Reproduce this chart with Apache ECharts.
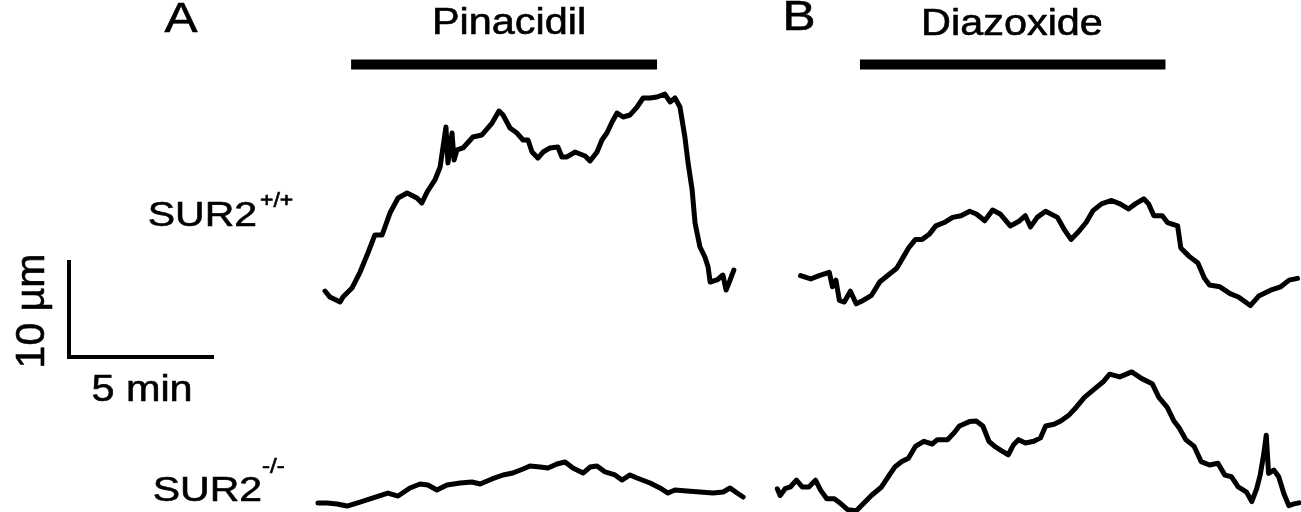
<!DOCTYPE html>
<html>
<head>
<meta charset="utf-8">
<script src="https://cdn.jsdelivr.net/npm/echarts@6/dist/echarts.min.js"></script>
<style>
html,body{margin:0;padding:0;background:#fff;}
#chart{width:1301px;height:512px;}
</style>
</head>
<body>
<div id="chart"></div>
<script>
// ---------- data (time in min, diameter change in µm) ----------
const wtPinTime = [0,0.17,0.52,0.62,0.93,1.21,1.48,1.72,1.97,2.24,2.52,2.83,3.17,3.34,3.52,3.79,3.97,4.07,4.17,4.24,4.38,4.45,4.55,4.76,5.10,5.41,5.76,6.00,6.14,6.38,6.62,6.83,7.00,7.14,7.34,7.52,7.76,8.03,8.17,8.34,8.62,8.97,9.14,9.38,9.55,9.72,9.90,10.07,10.28,10.52,10.76,10.97,11.21,11.45,11.72,11.90,12.07,12.24,12.41,12.52,12.66,12.76,12.93,13.10,13.21,13.28,13.52,13.72,13.83,13.97,14.10];
const wtPinDiam = [1.44,0.82,0.31,0.82,1.75,3.40,5.36,7.22,7.22,9.48,11.03,11.55,11.03,10.52,11.65,12.89,14.23,16.29,18.35,14.64,17.73,14.95,15.98,16.19,17.32,17.53,18.76,20.00,19.59,18.25,17.73,17.01,17.01,15.77,15.15,15.77,16.19,16.29,15.26,15.26,15.77,15.36,14.85,15.77,17.01,17.73,18.87,19.79,19.38,19.59,20.41,21.34,21.34,21.44,21.75,20.93,21.34,20.41,17.32,14.64,11.86,8.45,5.98,4.95,3.92,2.37,2.58,3.09,1.55,2.58,3.61];

const wtDiaTime = [0.02,0.37,0.66,1.01,1.12,1.24,1.36,1.53,1.74,1.94,2.18,2.47,2.76,3.05,3.34,3.58,3.75,3.99,4.22,4.46,4.69,4.98,5.27,5.56,5.86,6.09,6.38,6.65,6.91,7.26,7.55,7.78,7.96,8.19,8.48,8.89,9.12,9.36,9.59,9.88,10.12,10.41,10.76,11.05,11.34,11.58,11.87,12.04,12.22,12.51,12.69,13.04,13.15,13.44,13.74,13.97,14.14,14.50,14.85,15.14,15.55,15.84,16.25,16.60,16.89,17.18];
const wtDiaDiam = [3.23,2.89,3.23,3.58,2.08,2.77,0.68,0.51,1.63,0.33,0.68,1.21,2.61,3.30,4.00,5.22,6.09,6.97,6.97,7.49,8.36,8.71,9.24,9.41,9.87,9.59,8.89,10.00,9.59,8.36,8.81,9.41,8.26,9.24,9.87,9.24,8.01,6.97,7.67,8.71,9.94,10.63,10.98,10.63,10.11,10.63,11.15,10.63,9.41,9.41,8.71,8.36,6.09,5.22,4.53,2.95,2.26,2.08,1.38,1.03,0.15,1.13,1.73,2.08,2.77,2.95];

const koPinTime = [0,0.31,0.66,1.00,1.45,1.90,2.41,2.76,3.17,3.52,3.79,4.10,4.45,4.90,5.31,5.59,6.00,6.38,6.72,7.07,7.31,7.66,7.93,8.24,8.52,8.79,9.14,9.38,9.62,9.90,10.24,10.48,10.76,11.00,11.45,11.79,12.07,12.31,12.72,13.17,13.62,13.97,14.21,14.45,14.66];
const koPinDiam = [0.72,0.72,0.62,0.41,0.82,1.24,1.75,1.44,2.27,2.68,2.58,2.06,2.58,2.78,2.89,2.68,3.20,3.61,3.81,4.23,4.54,4.43,4.33,4.74,4.95,4.33,3.81,4.43,4.54,3.92,3.61,3.09,3.61,3.30,2.78,2.27,1.75,2.06,1.96,1.86,1.75,1.86,2.27,1.75,1.34];

const koDiaTime = [0.01,0.11,0.28,0.46,0.67,0.87,1.10,1.33,1.51,1.72,1.98,2.21,2.44,2.74,3.03,3.26,3.61,3.84,4.08,4.31,4.54,4.78,5.07,5.36,5.54,5.89,6.12,6.30,6.65,6.88,7.11,7.32,7.52,7.76,7.99,8.17,8.34,8.58,8.87,9.10,9.28,9.57,9.80,10.09,10.33,10.62,10.97,11.26,11.49,11.84,12.25,12.60,12.96,13.19,13.48,13.71,13.89,14.12,14.41,14.65,14.94,15.23,15.47,15.70,15.93,16.22,16.40,16.57,16.69,16.81,16.90,16.98,17.16,17.33,17.51,17.68,17.86,18.03];
const koDiaDiam = [2.40,1.70,2.40,2.58,3.28,2.58,2.58,3.28,2.23,1.36,1.36,0.84,0.24,0.13,1.01,1.70,2.58,3.63,4.67,5.20,5.55,6.76,7.29,7.01,7.46,7.46,8.16,8.87,9.32,9.38,8.87,7.29,6.76,6.31,5.90,6.94,7.46,7.11,7.29,7.64,8.87,9.04,9.38,10.01,10.78,11.82,12.70,13.40,14.21,13.93,14.44,13.75,13.23,11.82,10.78,9.38,8.69,7.46,6.76,5.20,4.85,5.02,3.80,3.63,2.58,2.05,1.08,2.40,3.80,5.90,7.92,3.98,4.32,3.63,1.88,0.66,0.84,0.94];

const drugNames = ['Pinacidil', 'Diazoxide'];
const pinacidilPeriod = [0.90, 11.45];   // min
const diazoxidePeriod = [2.07, 12.62];   // min
const panelLetters = ['A', 'B'];
const genotypeBase = 'SUR2';
const genotypeSup = ['+/+', '-/-'];
const scaleBarMin = 5;    // min
const scaleBarUm = 10;    // µm

// ---------- layout ----------
const PX_MIN = 29;   // px per minute
const PX_UM = 9.7;   // px per µm
const FONT = '"Liberation Sans", Arial, Helvetica, sans-serif';

function gridAt(left, baseY, tMax, dMax) {
  return { left: left, top: baseY - dMax * PX_UM, width: tMax * PX_MIN, height: dMax * PX_UM, containLabel: false };
}
const panels = [
  { left: 325, base: 305, tMax: 14.2, dMax: 22 },
  { left: 800, base: 307, tMax: 17.3, dMax: 12 },
  { left: 318, base: 510, tMax: 14.7, dMax: 5.5 },
  { left: 777, base: 512, tMax: 18.1, dMax: 15 },
  { left: 69,  base: 357, tMax: scaleBarMin, dMax: scaleBarUm }
];
const BAR_Y_PX = 64.5;

const grids = panels.map(p => gridAt(p.left, p.base, p.tMax, p.dMax));
const xAxes = panels.map((p, i) => ({ type: 'value', gridIndex: i, min: 0, max: p.tMax, show: false }));
const yAxes = panels.map((p, i) => ({ type: 'value', gridIndex: i, min: 0, max: p.dMax, show: false }));

function zip(t, d) { return t.map((v, i) => [v, d[i]]); }
function trace(gi, t, d) {
  return {
    type: 'line', xAxisIndex: gi, yAxisIndex: gi, data: zip(t, d),
    showSymbol: false, symbol: 'none', clip: false, silent: true,
    lineStyle: { color: '#000', width: 5, join: 'round', cap: 'round' }
  };
}
function drugBar(gi, period) {
  const yv = (panels[gi].base - BAR_Y_PX) / PX_UM;
  return {
    type: 'line', xAxisIndex: gi, yAxisIndex: gi,
    data: [[period[0], yv], [period[1], yv]],
    showSymbol: false, symbol: 'none', clip: false, silent: true,
    lineStyle: { color: '#000', width: 10, cap: 'butt' }
  };
}

const series = [
  trace(0, wtPinTime, wtPinDiam),
  trace(1, wtDiaTime, wtDiaDiam),
  trace(2, koPinTime, koPinDiam),
  trace(3, koDiaTime, koDiaDiam),
  drugBar(0, pinacidilPeriod),
  drugBar(1, diazoxidePeriod),
  {
    type: 'line', xAxisIndex: 4, yAxisIndex: 4,
    data: [[0, scaleBarUm], [0, 0], [scaleBarMin, 0]],
    showSymbol: false, symbol: 'none', clip: false, silent: true,
    lineStyle: { color: '#000', width: 4, join: 'miter', cap: 'butt' }
  }
];

function txt(s, x, y, size, align, sx) {
  return {
    type: 'text', x: x, y: y, scaleX: sx || 1.15, silent: true,
    style: { text: s, x: 0, y: 0, font: size + 'px ' + FONT, fill: '#000', stroke: '#000', lineWidth: 0.6,
             textAlign: align || 'center', textVerticalAlign: 'middle' }
  };
}

const graphic = [
  txt(panelLetters[0], 181, 20, 42, 'center', 1.18),
  txt(panelLetters[1], 799, 18, 42, 'center', 1.18),
  txt(drugNames[0], 509, 24.5, 36, 'center'),
  txt(drugNames[1], 1012, 25.5, 36, 'center'),
  txt(genotypeBase, 257, 216, 35, 'right', 1.17),
  txt(genotypeSup[0], 260, 201, 20, 'left'),
  txt(genotypeBase, 262, 491.5, 35, 'right', 1.17),
  txt(genotypeSup[1], 262, 467, 21, 'left'),
  txt(scaleBarMin + ' min', 142, 391, 36, 'center'),
  { type: 'text', x: 33, y: 311, rotation: Math.PI / 2, silent: true,
    style: { text: scaleBarUm + ' µm', x: 0, y: 0, font: '41px ' + FONT, fill: '#000', stroke: '#000', lineWidth: 0.6,
             textAlign: 'center', textVerticalAlign: 'middle' } }
];

const chart = echarts.init(document.getElementById('chart'), null, { renderer: 'canvas' });
chart.setOption({
  animation: false,
  backgroundColor: '#fff',
  grid: grids,
  xAxis: xAxes,
  yAxis: yAxes,
  series: series,
  graphic: graphic
});
</script>
</body>
</html>
